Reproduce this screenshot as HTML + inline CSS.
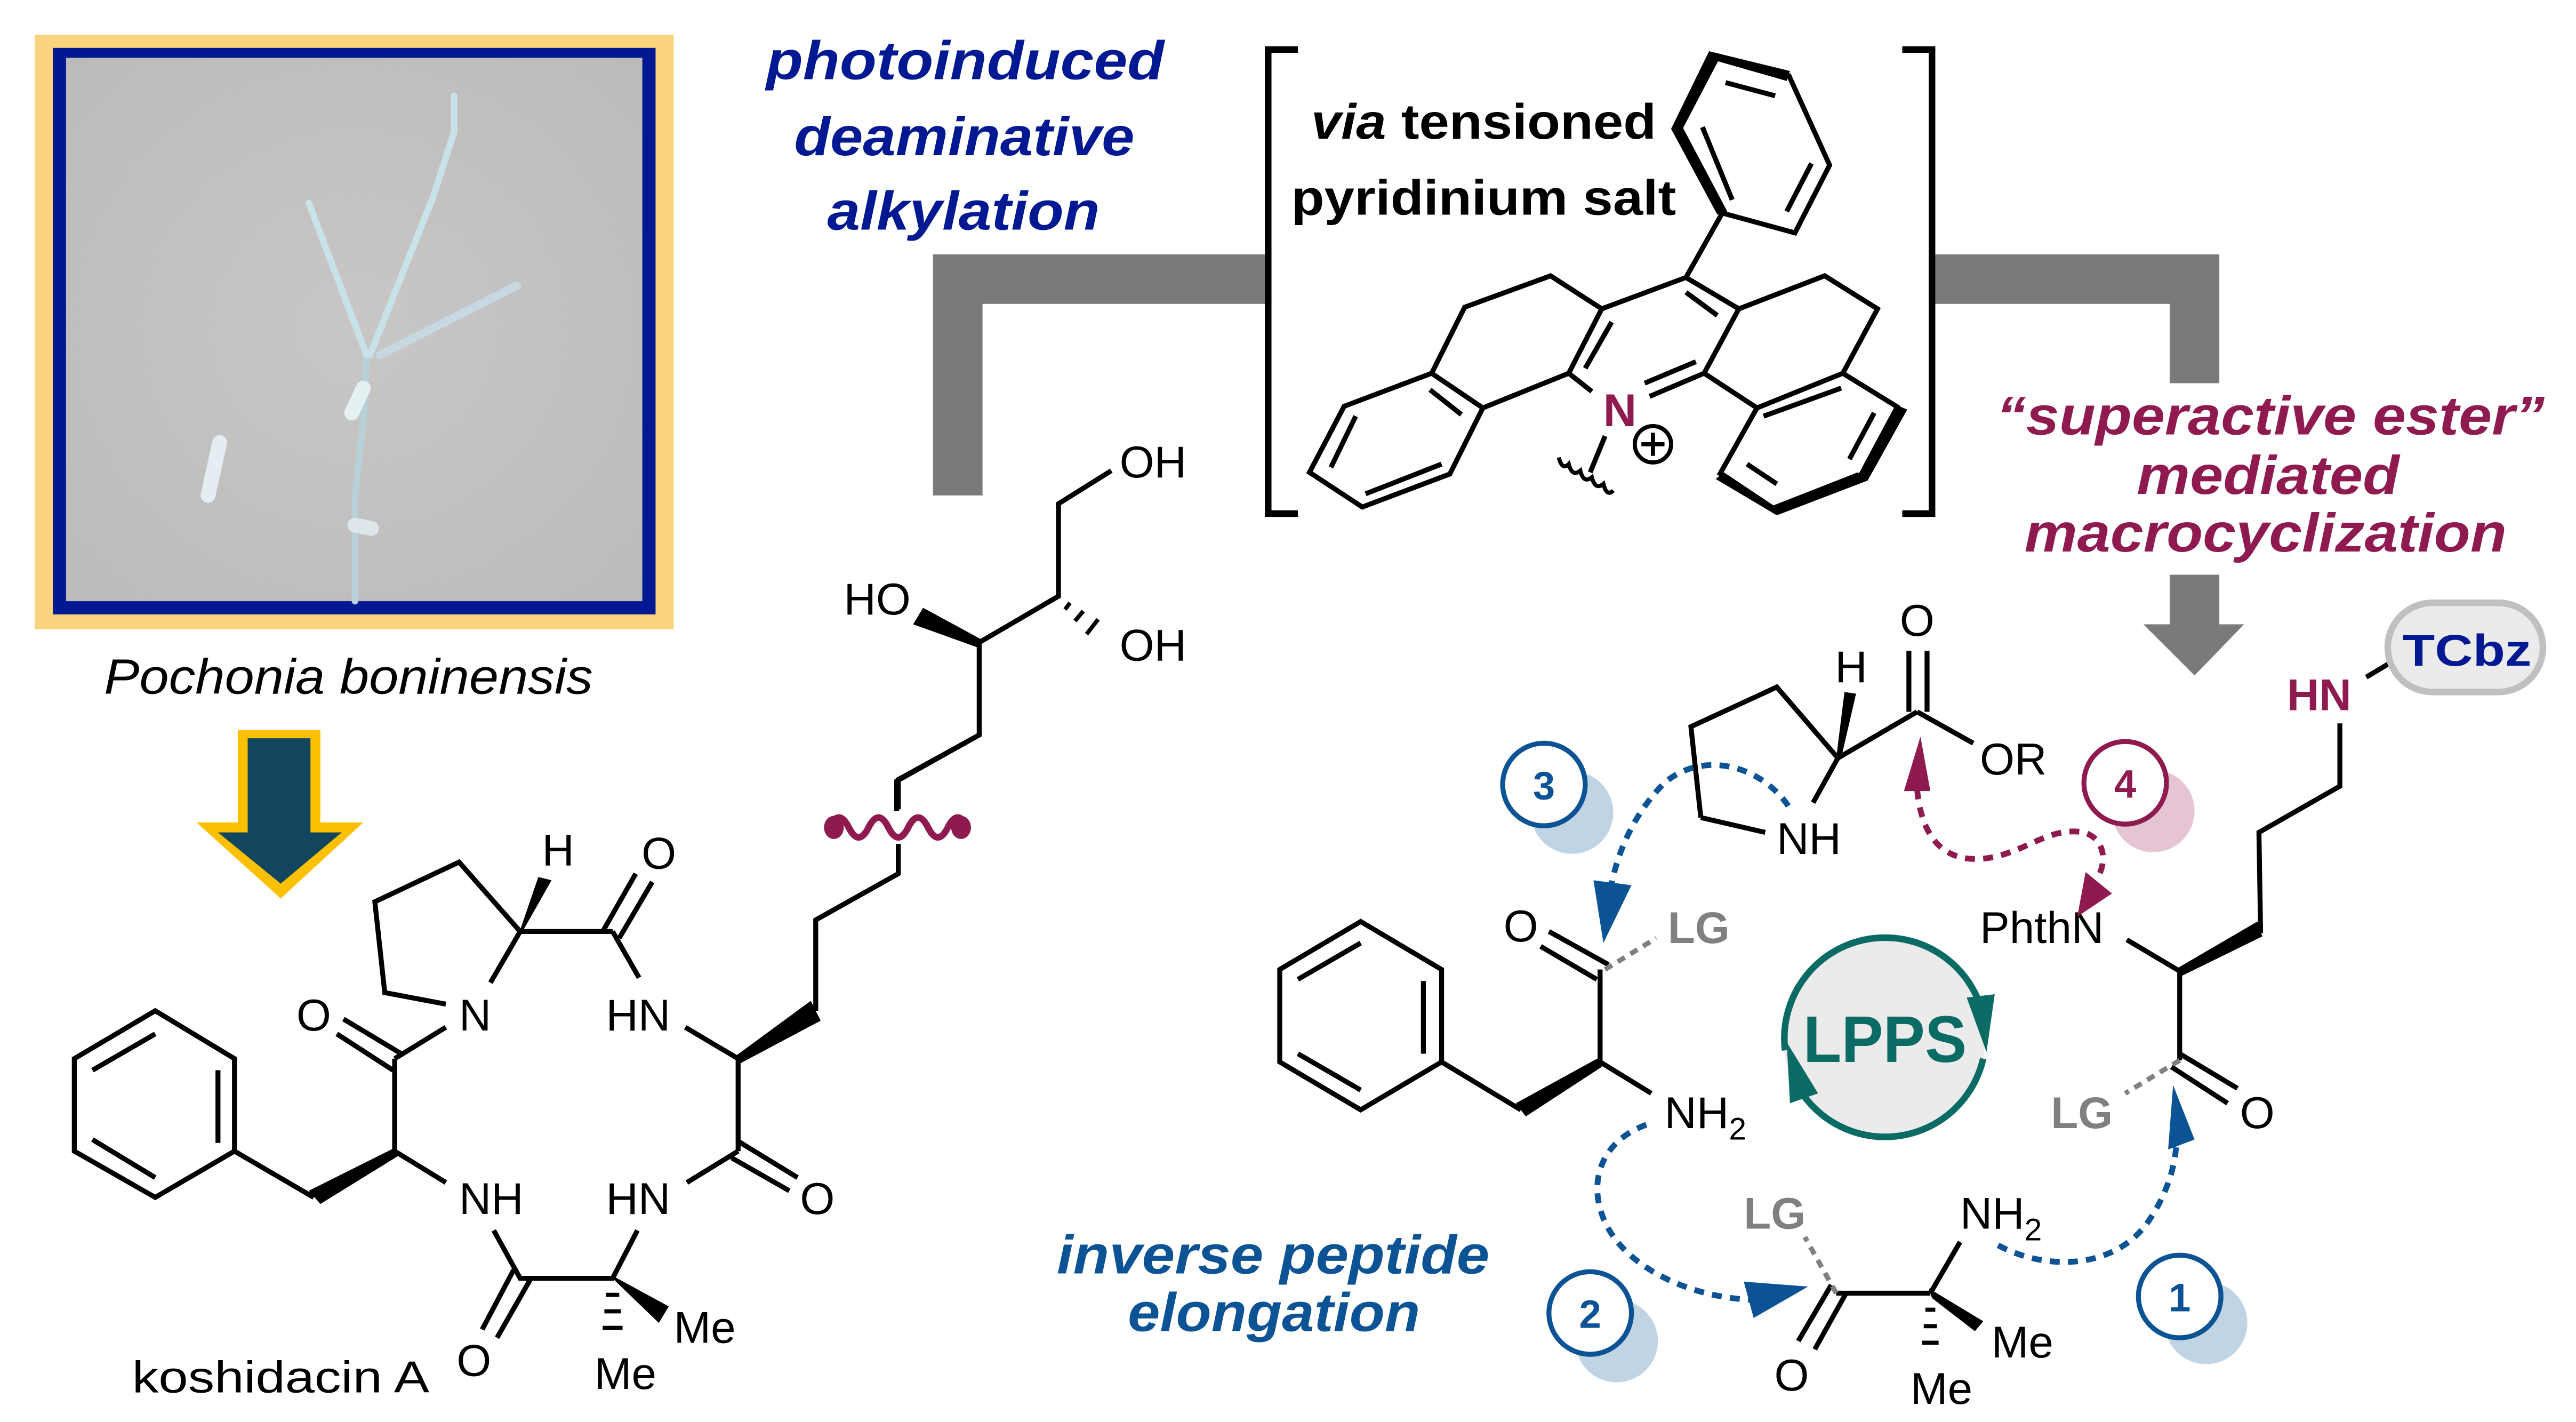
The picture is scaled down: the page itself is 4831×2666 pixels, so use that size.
<!DOCTYPE html>
<html><head><meta charset="utf-8"><style>
html,body{margin:0;padding:0;background:#fff;}
svg{display:block;}
text{font-family:"Liberation Sans",Arial,sans-serif;}
</style></head><body>
<svg width="4831" height="2666" viewBox="0 0 1560 861" preserveAspectRatio="none" xmlns="http://www.w3.org/2000/svg">
<defs>
<radialGradient id="bg" cx="0.5" cy="0.5" r="0.7"><stop offset="0" stop-color="#c9c7c5"/><stop offset="1" stop-color="#bdbbba"/></radialGradient>
</defs>
<rect width="1560" height="861" fill="#fff"/>
<!-- photo -->
<rect x="21" y="21" width="387" height="360" fill="#f9d47d"/>
<rect x="32" y="29" width="365" height="343" fill="#001892"/>
<rect x="40" y="35" width="349" height="329" fill="url(#bg)"/>
<g stroke-linecap="round" fill="none">
<path d="M215,364 L215,300 L220,255 L222,215" stroke="#b8d0d8" stroke-width="4"/>
<path d="M222,215 L187,123" stroke="#c8e2ea" stroke-width="4"/>
<path d="M224,215 L262,120 L275,80 L275,58" stroke="#c8e2ea" stroke-width="4"/>
<path d="M230,215 L313,173" stroke="#c8d8e2" stroke-width="5"/>
<path d="M213,250 L220,235" stroke="#e4f0f2" stroke-width="9"/>
<path d="M133,268 L126,300" stroke="#e4eef2" stroke-width="9"/>
<path d="M215,318 L225,320" stroke="#dde6ea" stroke-width="9"/>
</g>
<text x="63" y="420" font-size="30" font-style="italic" textLength="296" lengthAdjust="spacingAndGlyphs">Pochonia boninensis</text>
<!-- down arrow -->
<polygon points="144,442 194,442 194,498 220,498 170,544 119,498 144,498" fill="#fbc000"/>
<polygon points="150,447 188,447 188,504 207,504 170,535 132,504 150,504" fill="#12465f"/>
<!-- titles -->
<g font-weight="bold" font-style="italic" font-size="33" fill="#001892">
<text x="464" y="48" textLength="241" lengthAdjust="spacingAndGlyphs">photoinduced</text>
<text x="481" y="94" textLength="206" lengthAdjust="spacingAndGlyphs">deaminative</text>
<text x="501" y="139" textLength="165" lengthAdjust="spacingAndGlyphs">alkylation</text>
</g>
<g font-weight="bold" font-style="italic" font-size="33" fill="#8f1a50">
<text x="1209" y="263" textLength="332" lengthAdjust="spacingAndGlyphs">“superactive ester”</text>
<text x="1294" y="299" textLength="159" lengthAdjust="spacingAndGlyphs">mediated</text>
<text x="1226" y="334" textLength="292" lengthAdjust="spacingAndGlyphs">macrocyclization</text>
</g>
<g font-weight="bold" font-style="italic" font-size="33" fill="#0b5394">
<text x="640" y="771" textLength="262" lengthAdjust="spacingAndGlyphs">inverse peptide</text>
<text x="683" y="806" textLength="177" lengthAdjust="spacingAndGlyphs">elongation</text>
</g>
<!-- gray bars -->
<path d="M565,300 L565,154 L766,154 L766,184 L595,184 L595,300 Z" fill="#7a7a7a"/>
<path d="M1172,154 L1344,154 L1344,232 L1314,232 L1314,184 L1172,184 Z" fill="#7a7a7a"/>
<polygon points="1314,348 1344,348 1344,378 1359,378 1329,409 1298,378 1314,378" fill="#7a7a7a"/>
<!-- brackets -->
<path d="M786,30 L768,30 L768,311 L786,311" fill="none" stroke="#000" stroke-width="4"/>
<path d="M1152,30 L1170,30 L1170,311 L1152,311" fill="none" stroke="#000" stroke-width="4"/>
<g font-weight="bold" font-size="30" fill="#000">
<text x="794" y="84" textLength="209" lengthAdjust="spacingAndGlyphs"><tspan font-style="italic">via</tspan> tensioned</text>
<text x="782" y="130" textLength="233" lengthAdjust="spacingAndGlyphs">pyridinium salt</text>
</g>
<!-- pyridinium -->
<g stroke="#000" stroke-width="3" fill="none" stroke-linejoin="miter">
<polyline points="1043,129 1087,141 1108,100 1083,45"/>
<line x1="1045" y1="50" x2="1075" y2="58"/><line x1="1031" y1="77" x2="1049" y2="121"/><line x1="1097" y1="99" x2="1082" y2="128"/>
<line x1="1043" y1="129" x2="1021" y2="168"/>
<polyline points="950,226 970,187 1021,168 1053,187 1032,226"/>
<line x1="950" y1="226" x2="964" y2="237"/><line x1="999" y1="240" x2="1032" y2="226"/>
<line x1="1021" y1="177" x2="1040" y2="191"/><line x1="976" y1="195" x2="960" y2="223"/><line x1="996" y1="232" x2="1027" y2="219"/>
<polyline points="970,187 939,167 887,186 867,226 898,247 950,226"/>
<polyline points="867,226 814,246 793,286 825,307 878,287 898,247"/>
<line x1="866" y1="236" x2="885" y2="251"/><line x1="821" y1="252" x2="806" y2="283"/><line x1="827" y1="299" x2="873" y2="281"/>
<polyline points="1053,187 1105,167 1137,187 1116,226 1064,247 1032,226"/>
<polyline points="1116,226 1150,247"/><polyline points="1041,288 1064,247"/>
<line x1="1068" y1="252" x2="1115" y2="235"/><line x1="1135" y1="250" x2="1120" y2="278"/><line x1="1076" y1="293" x2="1058" y2="281"/>
<line x1="972" y1="264" x2="963" y2="286"/>
<path d="M944,277 q2,8 6,4 q2,8 7,4 q2,8 7,4 q2,8 7,4 q2,8 6,4" stroke-width="2.5"/>
<circle cx="1001" cy="269" r="11" stroke-width="2.5"/>
<line x1="994" y1="269" x2="1008" y2="269" stroke-width="2.5"/><line x1="1001" y1="262" x2="1001" y2="276" stroke-width="2.5"/>
</g>
<g fill="#000">
<polygon points="1035,31 1084,43 1082,49 1040,37"/>
<polygon points="1035,31 1041,36 1019,78 1012,78"/>
<polygon points="1012,78 1019,77 1046,128 1040,130"/>
<polygon points="1148,245 1155,248 1131,291 1125,288"/>
<polygon points="1125,286 1131,291 1076,312 1074,306"/>
<polygon points="1074,306 1076,312 1039,290 1044,286"/>
</g>
<text x="981" y="258" font-size="28" font-weight="bold" fill="#8f1a50" text-anchor="middle">N</text>
<!-- koshidacin A -->
<g stroke="#000" stroke-width="3" fill="none">
<polygon points="94,612 142,641 142,697 94,725 45,697 45,641"/>
<line x1="132" y1="648" x2="132" y2="692"/><line x1="56" y1="648" x2="94" y2="626"/><line x1="56" y1="690" x2="94" y2="713"/>
<line x1="142" y1="697" x2="190" y2="725"/>
<line x1="239" y1="697" x2="270" y2="716"/>
<line x1="239" y1="697" x2="239" y2="641"/>
<line x1="243" y1="638" x2="208" y2="617"/><line x1="238" y1="648" x2="204" y2="626"/>
<line x1="239" y1="641" x2="270" y2="622"/>
<polyline points="270,608 233,601 227,546 278,522 315,564 297,595"/>
<line x1="315" y1="564" x2="371" y2="564"/>
<line x1="365" y1="564" x2="385" y2="529"/><line x1="375" y1="568" x2="395" y2="534"/>
<line x1="371" y1="564" x2="387" y2="592"/>
<polyline points="415,622 447,641 447,697"/>
<line x1="447" y1="691" x2="483" y2="713"/><line x1="443" y1="701" x2="478" y2="721"/>
<line x1="447" y1="697" x2="416" y2="716"/>
<polyline points="386,745 371,774 315,774 299,745"/>
<line x1="311" y1="769" x2="292" y2="805"/><line x1="321" y1="775" x2="301" y2="810"/>
<polyline points="494,612 494,557 544,529 544,511"/>
<polyline points="544,490 544,472 593,445 593,389 641,361 641,305 673,285"/>
<polyline points="593,445 543,473 543,491"/>
</g>
<g fill="#000">
<polygon points="239,695 241,700 194,729 187,721"/>
<polygon points="314,566 317,563 334,533 326,531"/>
<polygon points="446,639 448,644 497,618 491,606"/>
<polygon points="370,772 373,776 399,801 405,791"/>
<polygon points="594,387 592,392 553,378 559,368"/>
<g stroke="#000" stroke-width="2.5"><line x1="367" y1="784" x2="375" y2="784"/><line x1="366" y1="794" x2="376" y2="794"/><line x1="365" y1="804" x2="377" y2="804"/>
<line x1="648" y1="365" x2="645" y2="369"/><line x1="656" y1="370" x2="651" y2="376"/><line x1="665" y1="375" x2="658" y2="384"/></g>
</g>
<path d="M502,501 q6,-12 12,0 q6,12 12,0 q6,-12 12,0 q6,12 12,0 q6,-12 12,0 q6,12 12,0 q6,-12 12,0" fill="none" stroke="#8f1a50" stroke-width="4"/>
<ellipse cx="505" cy="501" rx="6" ry="7" fill="#8f1a50"/><ellipse cx="582" cy="501" rx="6" ry="7" fill="#8f1a50"/>
<g font-size="27" fill="#000">
<text x="190" y="624" text-anchor="middle">O</text>
<text x="278" y="624">N</text>
<text x="338" y="524" text-anchor="middle">H</text>
<text x="399" y="526" text-anchor="middle">O</text>
<text x="367" y="624">HN</text>
<text x="278" y="735">NH</text>
<text x="367" y="735">HN</text>
<text x="495" y="735" text-anchor="middle">O</text>
<text x="287" y="833" text-anchor="middle">O</text>
<text x="408" y="813">Me</text>
<text x="360" y="841">Me</text>
<text x="511" y="372">HO</text>
<text x="678" y="289">OH</text>
<text x="678" y="400">OH</text>
<text x="80" y="843" textLength="180" lengthAdjust="spacingAndGlyphs">koshidacin A</text>
</g>
<!-- right: LPPS -->
<circle cx="1141" cy="629" r="61" fill="#ebebeb"/>
<path d="M1081,636 A61,61 0 0 1 1201,615" fill="none" stroke="#0a6a64" stroke-width="4"/>
<polygon points="1191,604 1208,602 1203,637" fill="#0a6a64"/>
<path d="M1201,641 A61,61 0 0 1 1090,660" fill="none" stroke="#0a6a64" stroke-width="4"/>
<polygon points="1082,631 1084,668 1101,662" fill="#0a6a64"/>
<text x="1092" y="643" font-size="40" font-weight="bold" fill="#0a6a64" textLength="99" lengthAdjust="spacingAndGlyphs">LPPS</text>
<!-- Phe -->
<g stroke="#000" stroke-width="3" fill="none">
<polygon points="824,558 873,587 873,643 824,672 775,643 775,587"/>
<line x1="786" y1="593" x2="824" y2="571"/><line x1="862" y1="594" x2="862" y2="638"/><line x1="786" y1="638" x2="824" y2="660"/>
<line x1="873" y1="643" x2="921" y2="672"/>
<line x1="969" y1="643" x2="969" y2="587"/>
<line x1="938" y1="564" x2="974" y2="584"/><line x1="933" y1="573" x2="967" y2="593"/>
<line x1="969" y1="643" x2="1000" y2="662"/>
<!-- Pro -->
<polyline points="1030,495 1024,440 1076,416 1113,459 1098,486"/>
<line x1="1030" y1="495" x2="1069" y2="504"/>
<line x1="1113" y1="459" x2="1161" y2="431"/>
<line x1="1156" y1="394" x2="1156" y2="431"/><line x1="1167" y1="394" x2="1167" y2="431"/>
<line x1="1161" y1="431" x2="1195" y2="450"/>
<!-- Aib -->
<line x1="1112" y1="783" x2="1169" y2="783"/>
<line x1="1118" y1="783" x2="1099" y2="817"/><line x1="1109" y1="778" x2="1089" y2="812"/>
<line x1="1169" y1="783" x2="1187" y2="752"/>
<!-- Orn -->
<line x1="1288" y1="569" x2="1320" y2="588"/>
<line x1="1320" y1="588" x2="1320" y2="642"/>
<line x1="1320" y1="638" x2="1355" y2="659"/><line x1="1315" y1="646" x2="1349" y2="668"/>
<polyline points="1369,565 1368,504 1417,476 1417,438"/>
<line x1="1433" y1="410" x2="1453" y2="398"/>
</g>
<g fill="#000">
<polygon points="969,640 970,646 924,676 918,668"/>
<polygon points="1112,459 1115,459 1124,420 1117,419"/>
<polygon points="1168,780 1170,786 1196,806 1201,800"/>
<polygon points="1319,586 1321,591 1370,567 1367,558"/>
<g stroke="#000" stroke-width="2.5"><line x1="1166" y1="793" x2="1172" y2="793"/><line x1="1165" y1="803" x2="1173" y2="803"/><line x1="1164" y1="813" x2="1174" y2="813"/></g>
</g>
<g stroke="#808080" stroke-width="3" stroke-dasharray="5,4" fill="none">
<line x1="972" y1="587" x2="1003" y2="568"/>
<line x1="1112" y1="783" x2="1093" y2="749"/>
<line x1="1320" y1="642" x2="1287" y2="662"/>
</g>
<g font-size="27" fill="#000">
<text x="921" y="570" text-anchor="middle">O</text>
<text x="1008" y="683">NH<tspan font-size="19" dy="7">2</tspan></text>
<text x="1076" y="517">NH</text>
<text x="1121" y="413" text-anchor="middle">H</text>
<text x="1161" y="385" text-anchor="middle">O</text>
<text x="1199" y="469">OR</text>
<text x="1085" y="842" text-anchor="middle">O</text>
<text x="1187" y="744">NH<tspan font-size="19" dy="7">2</tspan></text>
<text x="1206" y="822">Me</text>
<text x="1157" y="850">Me</text>
<text x="1199" y="571">PhthN</text>
<text x="1367" y="683" text-anchor="middle">O</text>
</g>
<g font-size="27" font-weight="bold" fill="#808080">
<text x="1010" y="571">LG</text>
<text x="1056" y="744">LG</text>
<text x="1242" y="683">LG</text>
</g>
<text x="1385" y="430" font-size="27" font-weight="bold" fill="#8f1a50">HN</text>
<rect x="1446" y="365" width="94" height="54" rx="27" fill="#ebebeb" stroke="#c0c0c0" stroke-width="4"/>
<text x="1455" y="403" font-size="27" font-weight="bold" fill="#001892" textLength="78" lengthAdjust="spacingAndGlyphs">TCbz</text>
<!-- numbered circles -->
<circle cx="952" cy="492" r="25" fill="#c0d4e4"/><circle cx="935" cy="475" r="25" fill="#fff" stroke="#0b5394" stroke-width="3"/>
<text x="935" y="484" font-size="24" font-weight="bold" fill="#0b5394" text-anchor="middle">3</text>
<circle cx="979" cy="812" r="25" fill="#c0d4e4"/><circle cx="963" cy="795" r="25" fill="#fff" stroke="#0b5394" stroke-width="3"/>
<text x="963" y="804" font-size="24" font-weight="bold" fill="#0b5394" text-anchor="middle">2</text>
<circle cx="1336" cy="801" r="25" fill="#c0d4e4"/><circle cx="1320" cy="785" r="25" fill="#fff" stroke="#0b5394" stroke-width="3"/>
<text x="1320" y="794" font-size="24" font-weight="bold" fill="#0b5394" text-anchor="middle">1</text>
<circle cx="1304" cy="491" r="25" fill="#e5c5d3"/><circle cx="1287" cy="474" r="25" fill="#fff" stroke="#8f1a50" stroke-width="3"/>
<text x="1287" y="483" font-size="24" font-weight="bold" fill="#8f1a50" text-anchor="middle">4</text>
<!-- dotted arrows -->
<g fill="none" stroke-width="3.5" stroke-dasharray="6,5">
<path d="M1083,488 C1065,462 1030,455 1008,474 C990,492 980,515 976,535" stroke="#0b5394"/>
<path d="M997,681 C972,690 962,712 970,735 C980,765 1020,785 1060,787" stroke="#0b5394"/>
<path d="M1210,754 C1240,770 1280,768 1300,741 C1315,720 1318,700 1318,690" stroke="#0b5394"/>
<path d="M1161,478 C1163,500 1172,522 1200,520 C1225,518 1240,500 1262,504 C1275,508 1276,522 1270,532" stroke="#8f1a50"/>
</g>
<polygon points="971,571 965,533 988,536" fill="#0b5394"/>
<polygon points="1095,779 1056,776 1062,798" fill="#0b5394"/>
<polygon points="1316,657 1313,696 1329,690" fill="#0b5394"/>
<polygon points="1163,446 1153,479 1169,479" fill="#8f1a50"/>
<polygon points="1258,555 1263,528 1279,541" fill="#8f1a50"/>
</svg>
</body></html>
